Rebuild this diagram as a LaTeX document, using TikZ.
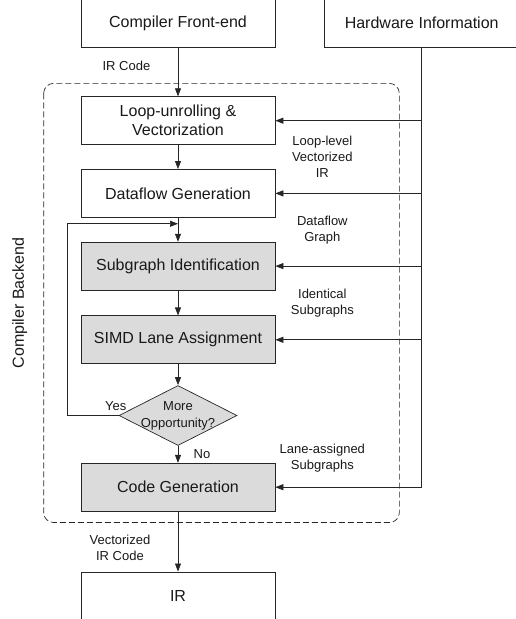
\documentclass[tikz,border=0pt]{standalone}
\usepackage{fontspec}
\setmainfont{Liberation Sans}
\usetikzlibrary{arrows.meta,positioning,shapes.geometric,calc}
\tikzset{>={Triangle[length=8pt,width=6pt]}}

\begin{document}
\begin{tikzpicture}[x=1pt, y=-1pt,
    stage/.style={draw, fill=white, minimum width=194pt, minimum height=48pt, inner sep=0pt, align=center, font=\fontsize{16}{19}\selectfont},
    pass/.style={stage, fill=black!14},
    decision/.style={draw, diamond, fill=black!14, minimum width=118pt, minimum height=60pt, inner sep=0pt},
    note/.style={align=center, font=\fontsize{13}{16}\selectfont},
    backend/.style={draw, dash pattern=on 6pt off 3pt, rounded corners=10pt},
    line width=0.7pt, draw=black!85, text=black!90
  ]
    \useasboundingbox (0,0) rectangle (516,619);

    \node[stage] (front) at (178,23) {Compiler Front-end};
    \node[stage, right=49pt of front] (hw) {Hardware Information};
    \node[stage, below=49pt of front] (unroll) {Loop-unrolling \&\\Vectorization};
    \node[stage, below=24pt of unroll] (dfg) {Dataflow Generation};
    \node[pass, below=24pt of dfg] (subid) {Subgraph Identification};
    \node[pass, below=25pt of subid] (lane) {SIMD Lane Assignment};
    \node[decision, below=21pt of lane,
      label={[note, font=\fontsize{13}{17}\selectfont]center:More\\Opportunity?}] (more) {};
    \node[pass, below=17pt of more] (codegen) {Code Generation};
    \node[stage, below=60pt of codegen] (ir) {IR};

    % dashed backend frame
    \coordinate (bnw) at ([xshift=-37pt, yshift=13pt]unroll.north west);
    \coordinate (bse) at ([xshift=124pt, yshift=-11pt]codegen.south east);
    \draw[backend] (bnw) rectangle (bse);
    \node[rotate=90, font=\fontsize{16}{19}\selectfont] (backlbl)
      at ([xshift=-24pt]$(bnw)!0.5!(bnw |- bse)$) {Compiler Backend};

    % main flow
    \draw[->] (front) -- node[note, pos=0.37, left=24pt] {IR Code} (unroll);
    \draw[->] (unroll) -- (dfg);
    \draw[->] (dfg) -- (subid);
    \draw[->] (subid) -- (lane);
    \draw[->] (lane) -- (more);
    \draw[->] (more) -- node[note, right=12pt] {No} (codegen);
    \draw[->] (codegen) -- node[note, pos=0.6, left=24pt] {Vectorized\\IR Code} (ir);

    % loop back
    \coordinate (merge) at ($(dfg.south)!0.25!(subid.north)$);
    \draw[->] (more.west) -- ++(-51pt,0) |- (merge);
    \node[note, above=1pt] (yes) at ([xshift=-3pt]more.west) {Yes};

    % hardware info feeds every stage
    \draw[->] (hw.south) |- (codegen.east);
    \foreach \n in {unroll, dfg, subid, lane}
      \draw[->] (hw.south |- \n.east) -- (\n.east);

    % intermediate results
    \node[note] (n1) at ($(unroll.south east)!0.5!(dfg.north east) + (47,0)$) {Loop-level\\Vectorized\\IR};
    \node[note] (n2) at ($(dfg.south east)!0.5!(subid.north east) + (47,0)$) {Dataflow\\Graph};
    \node[note] (n3) at ($(subid.south east)!0.5!(lane.north east) + (47,0)$) {Identical\\Subgraphs};
    \node[note] (n4) at ([xshift=47pt, yshift=5pt]codegen.north east) {Lane-assigned\\Subgraphs};
\end{tikzpicture}
\end{document}
